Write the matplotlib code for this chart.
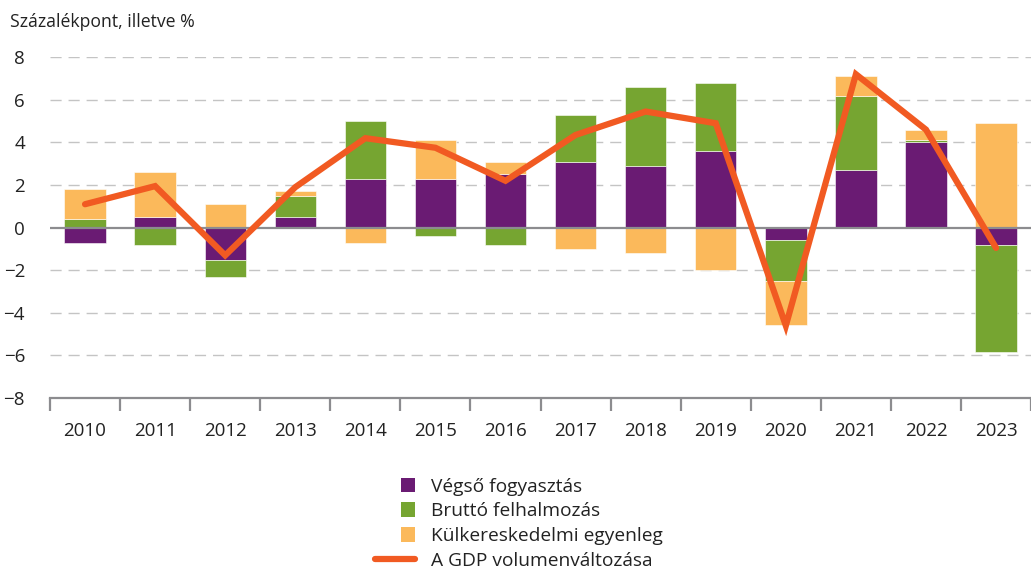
import numpy as np
import matplotlib
matplotlib.use("Agg")
import matplotlib.pyplot as plt
from matplotlib.patches import Rectangle, Patch
from matplotlib.legend_handler import HandlerPatch

# adatok (százalékpont)
years = ["2010", "2011", "2012", "2013", "2014", "2015", "2016",
         "2017", "2018", "2019", "2020", "2021", "2022", "2023"]
fogyasztas = [-0.7, 0.5, -1.5, 0.5, 2.3, 2.3, 2.5, 3.1, 2.9, 3.6, -0.6, 2.7, 4.0, -0.8]
felhalmozas = [0.4, -0.8, -0.8, 1.0, 2.7, -0.4, -0.8, 2.2, 3.7, 3.2, -1.9, 3.5, 0.1, -5.05]
kulker = [1.4, 2.1, 1.1, 0.2, -0.7, 1.8, 0.6, -1.0, -1.2, -2.0, -2.05, 0.9, 0.5, 4.9]
gdp = [1.1, 1.95, -1.3, 1.9, 4.2, 3.75, 2.2, 4.35, 5.45, 4.9, -4.6, 7.2, 4.6, -0.95]

labels = ["Végső fogyasztás", "Bruttó felhalmozás", "Külkereskedelmi egyenleg"]
colors = ["#6A1B73", "#76A531", "#FBB95B"]
line_color = "#F15A22"

plt.rcParams['font.family'] = ['Open Sans', 'DejaVu Sans']

fig = plt.figure(figsize=(10.31, 5.72), dpi=100)
ax = fig.add_axes([0.0485, 0.304, 0.955, 0.596])

x = np.arange(len(years))
pos = np.zeros(len(years))
neg = np.zeros(len(years))
handles = []
for vals, col, lab in zip([fogyasztas, felhalmozas, kulker], colors, labels):
    v = np.array(vals)
    bottom = np.where(v >= 0, pos, neg)
    ax.bar(x, v, 0.59, bottom=bottom, color=col, edgecolor="white",
           linewidth=0.4, zorder=2)
    handles.append(Patch(facecolor=col, label=lab))
    pos = pos + np.where(v >= 0, v, 0)
    neg = neg + np.where(v < 0, v, 0)

ln, = ax.plot(x, gdp, color=line_color, linewidth=4.5, solid_capstyle="round",
              solid_joinstyle="miter", zorder=3, label="A GDP volumenváltozása")

ax.set_xlim(-0.5, 13.55)
ax.set_ylim(-8, 8)
ax.set_yticks(np.arange(-8, 9, 2))
for yv in [-6, -4, -2, 2, 4, 6, 8]:
    ax.axhline(yv, color="#C4C4C4", linewidth=1, linestyle=(0, (8, 5)), zorder=0)
ax.axhline(0, color="#8C8C8F", linewidth=1.6, zorder=2.5)

for s in ["top", "right", "left"]:
    ax.spines[s].set_visible(False)
ax.spines["bottom"].set_color("#8C8C8F")
ax.spines["bottom"].set_linewidth(1.6)

ax.set_xticks(x)
ax.set_xticklabels(years)
ax.set_xticks(np.arange(-0.5, 13.6, 1), minor=True)
ax.tick_params(axis="x", which="major", length=0, pad=17, labelsize=13.5, colors="#222222")
ax.tick_params(axis="x", which="minor", length=9, width=1.6, color="#8C8C8F")
ax.tick_params(axis="y", length=0, pad=18, labelsize=13.5, colors="#222222")

fig.text(0.01, 0.962, "Százalékpont, illetve %", fontsize=12.7, color="#222222",
         va="center", ha="left")


def square(legend, orig_handle, xdescent, ydescent, width, height, fontsize):
    s = height * 1.08
    return Rectangle((width - s, -ydescent + (height - s) / 2), s, s)


leg = fig.legend(handles + [ln], labels + ["A GDP volumenváltozása"],
                 loc="upper left", bbox_to_anchor=(0.3637, 0.165), frameon=False,
                 fontsize=13.8, handlelength=2.1, handletextpad=0.83, labelspacing=0.35,
                 borderpad=0, borderaxespad=0,
                 handler_map={Patch: HandlerPatch(patch_func=square)})
for t in leg.get_texts():
    t.set_color("#222222")

plt.savefig("out.png", dpi=100)
